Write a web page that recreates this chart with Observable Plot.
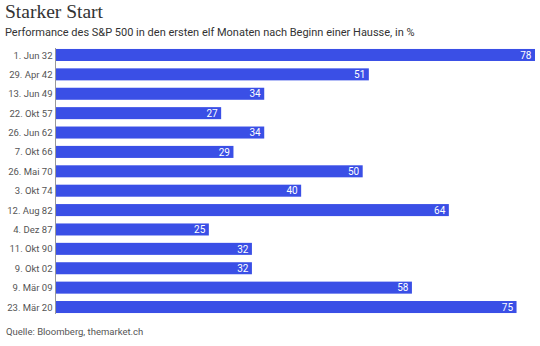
<!DOCTYPE html>
<html><head><meta charset="utf-8">
<script src="https://cdn.jsdelivr.net/npm/d3@7"></script>
<script src="https://cdn.jsdelivr.net/npm/@observablehq/plot@0.6"></script>
<style>
body{margin:0;background:#fff;width:540px;height:346px;overflow:hidden;font-family:Roboto,"Noto Sans",sans-serif;}
#title{position:absolute;left:5px;top:1px;font-family:"Liberation Serif",serif;font-size:19.5px;color:#333;}
#subtitle{position:absolute;left:5px;top:26px;font-size:11px;color:#333;}
#chart{position:absolute;left:0;top:48px;}
#caption{position:absolute;left:6px;top:326px;font-size:9.5px;color:#555;}
</style></head><body>
<div id="title">Starker Start</div>
<div id="subtitle">Performance des S&amp;P 500 in den ersten elf Monaten nach Beginn einer Hausse, in %</div>
<div id="chart"></div>
<div id="caption">Quelle: Bloomberg, themarket.ch</div>
<script>
const dates = ["1. Jun 32","29. Apr 42","13. Jun 49","22. Okt 57","26. Jun 62","7. Okt 66","26. Mai 70","3. Okt 74","12. Aug 82","4. Dez 87","11. Okt 90","9. Okt 02","9. Mär 09","23. Mär 20"];
const values = [78,51,34,27,34,29,50,40,64,25,32,32,58,75];
const data = dates.map((d,i)=>({date:d, value:values[i]}));
const chart = Plot.plot({
  width:540, height:266,
  marginLeft:55, marginRight:5, marginTop:0, marginBottom:0,
  style:{fontFamily:"Roboto, sans-serif", fontSize:"9.5px", color:"#555"},
  x:{domain:[0,78], axis:null},
  y:{domain:dates, paddingInner:0.38, paddingOuter:0.05, round:false, label:null, tickSize:0, tickPadding:3},
  marks:[
    Plot.barX(data,{y:"date", x:"value", fill:"#3a4fe6"}),
    Plot.text(data,{y:"date", x:"value", text:d=>String(d.value), textAnchor:"end", dx:-4, fill:"white", fontSize:10}),
    Plot.ruleX([0],{stroke:"#999"})
  ]
});
document.getElementById("chart").appendChild(chart);
</script>
</body></html>
